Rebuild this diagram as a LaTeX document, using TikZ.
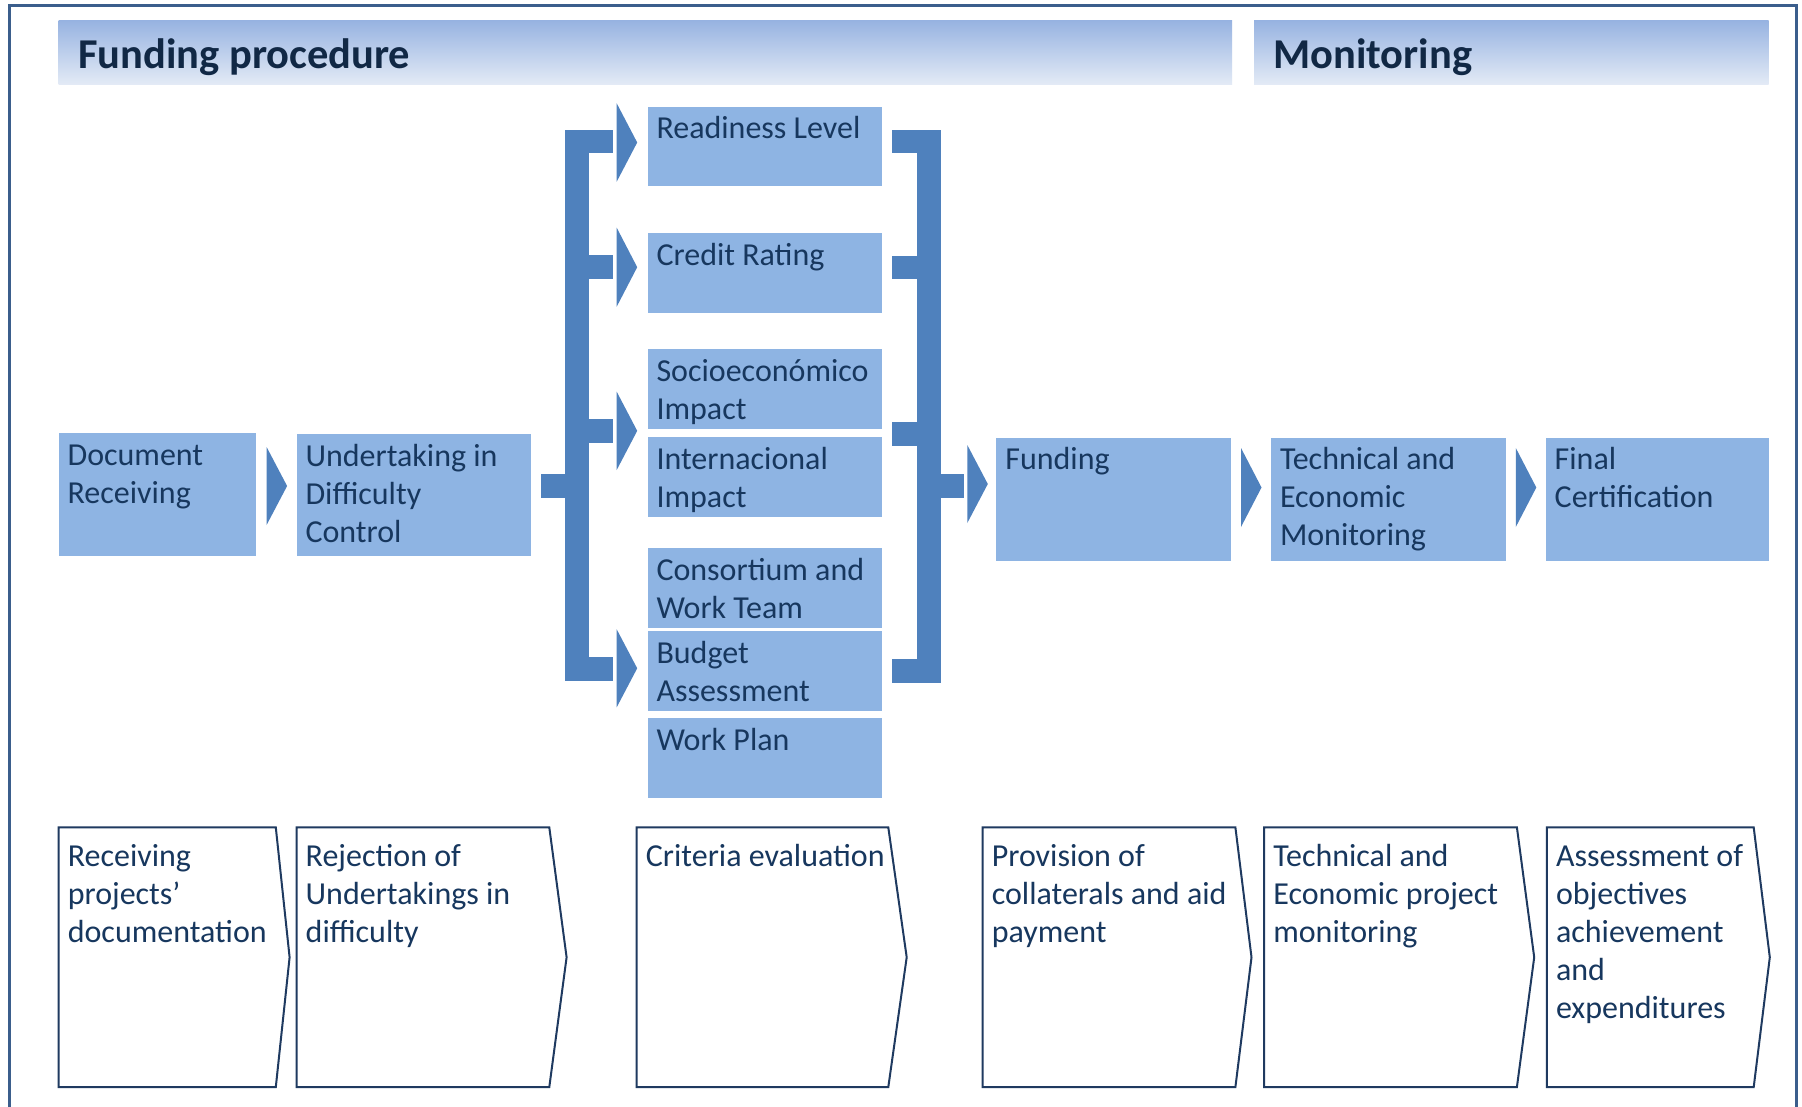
\documentclass[tikz,border=0pt]{standalone}
\usepackage{fontspec}
\setmainfont{Carlito}
\definecolor{boxblue}{HTML}{8EB4E3}
\definecolor{arrblue}{HTML}{4F81BD}
\definecolor{txtblue}{HTML}{17375E}
\definecolor{hdrtxt}{HTML}{112845}
\definecolor{framec}{HTML}{3B5E8C}
\definecolor{outl}{HTML}{1F3A60}
\definecolor{hdrtop}{HTML}{97B3E1}
\definecolor{hdrbot}{HTML}{E4EBF6}
\newcommand\cbt[3]{\parbox[t][#2][t]{#1}{\raggedright\rule{0pt}{32pt}#3}}
\newcommand\btx[1]{\parbox[t]{260pt}{\raggedright #1}}
\newcommand\trimark[3]{\fill[arrblue] (#1,#2) -- (#1+20.5,#2+#3/2) -- (#1,#2+#3) -- cycle;}
\newcommand\pentbox[3]{\draw[pent] (#1,827.4) -- (#2,827.4) -- (#3,957.3) -- (#2,1087.1) -- (#1,1087.1) -- cycle;}
\begin{document}
\begin{tikzpicture}[x=1pt,y=-1pt,
  cbox/.style={fill=boxblue, text=txtblue, inner xsep=9pt, inner ysep=0pt, outer sep=0pt, anchor=north west, font=\fontsize{32}{38}\selectfont},
  btxt/.style={text=txtblue, inner sep=0pt, anchor=base west, font=\fontsize{32}{38}\selectfont},
  hdr/.style={text=hdrtxt, inner sep=0pt, anchor=base west, font=\fontsize{42.5}{50}\selectfont\bfseries},
  pent/.style={draw=outl, line width=2pt, fill=white, line join=miter},
]
\useasboundingbox (0,0) rectangle (1802,1107);
\fill[white] (0,0) rectangle (1802,1107);
\draw[framec, line width=3pt] (9,1107) -- (9,6) -- (1796,6) -- (1796,1107);

% headers
\shade[top color=hdrtop, bottom color=hdrbot] (58.6,20.7) rectangle (1232,85);
\shade[top color=hdrtop, bottom color=hdrbot] (1254,20.7) rectangle (1768.6,85);
\node[hdr] (hfp) at (78,68.5) {Funding procedure};
\node[hdr] (hmon) at (1273,68.5) {Monitoring};

% main row
\node[cbox] (doc) at (58.6,433.2) {\cbt{179.7pt}{123pt}{Document\\Receiving}};
\node[cbox] (und) at (296.5,434.4) {\cbt{216.5pt}{121.8pt}{Undertaking in\\Difficulty\\Control}};
\node[cbox] (fund) at (996.4,437.8) {\cbt{216.3pt}{123pt}{Funding}};
\node[cbox] (tech) at (1271,437.8) {\cbt{216.5pt}{123pt}{Technical and\\Economic\\Monitoring}};
\node[cbox] (fin) at (1545.7,437.8) {\cbt{204.9pt}{123pt}{Final\\Certification}};

% criteria
\node[cbox] (rl) at (647.5,107) {\cbt{216.5pt}{79.5pt}{Readiness Level}};
\node[cbox] (cr) at (647.5,233.3) {\cbt{216.5pt}{79.5pt}{Credit Rating}};
\node[cbox] (se) at (647.5,349.4) {\cbt{216.5pt}{79.5pt}{Socioeconómico\\Impact}};
\node[cbox] (ii) at (647.5,437) {\cbt{216.5pt}{79.5pt}{Internacional\\Impact}};
\node[cbox] (cw) at (647.5,548.3) {\cbt{216.5pt}{79.5pt}{Consortium and\\Work Team}};
\node[cbox] (ba) at (647.5,631) {\cbt{216.5pt}{79.5pt}{Budget\\Assessment}};
\node[cbox] (wp) at (647.5,718.3) {\cbt{216.5pt}{79.5pt}{Work Plan}};

% left bracket
\fill[arrblue] (541,474) rectangle (589,497.7);
\fill[arrblue] (565,130) rectangle (589,680.7);
\fill[arrblue] (565,130) rectangle (612.7,153.3);
\fill[arrblue] (565,255) rectangle (612.7,278.7);
\fill[arrblue] (565,419.3) rectangle (612.7,442.7);
\fill[arrblue] (565,657.3) rectangle (612.7,680.7);
% right bracket
\fill[arrblue] (917.3,130) rectangle (940.7,682.7);
\fill[arrblue] (891.7,130) rectangle (940.7,153.3);
\fill[arrblue] (891.7,256) rectangle (940.7,279.5);
\fill[arrblue] (891.7,422.3) rectangle (940.7,445.7);
\fill[arrblue] (891.7,659.3) rectangle (940.7,682.7);
\fill[arrblue] (917,474) rectangle (964,497.7);

% triangles
\trimark{616.7}{103.3}{78.4}
\trimark{616.7}{227.7}{79}
\trimark{616.7}{391.7}{78.3}
\trimark{616.7}{629.3}{78}
\trimark{266.6}{447}{78}
\trimark{967.3}{445}{78}
\trimark{1241}{448}{79}
\trimark{1515.8}{448}{79}

% bottom boxes
\pentbox{58.6}{275.8}{289.6}
\pentbox{296.5}{549.3}{566.6}
\pentbox{636.7}{888.3}{906.7}
\pentbox{982.6}{1235.4}{1251.5}
\pentbox{1264.1}{1516.9}{1534.2}
\pentbox{1546.8}{1753.7}{1769.8}
\node[btxt] (b1) at (67.6,866.5) {\btx{Receiving\\projects’\\documentation}};
\node[btxt] (b2) at (305.5,866.5) {\btx{Rejection of\\Undertakings in\\difficulty}};
\node[btxt] (b3) at (645.7,866.5) {\btx{Criteria evaluation}};
\node[btxt] (b4) at (991.6,866.5) {\btx{Provision of\\collaterals and aid\\payment}};
\node[btxt] (b5) at (1273.1,866.5) {\btx{Technical and\\Economic project\\monitoring}};
\node[btxt] (b6) at (1555.8,866.5) {\btx{Assessment of\\objectives\\achievement\\and\\expenditures}};
\end{tikzpicture}
\end{document}
